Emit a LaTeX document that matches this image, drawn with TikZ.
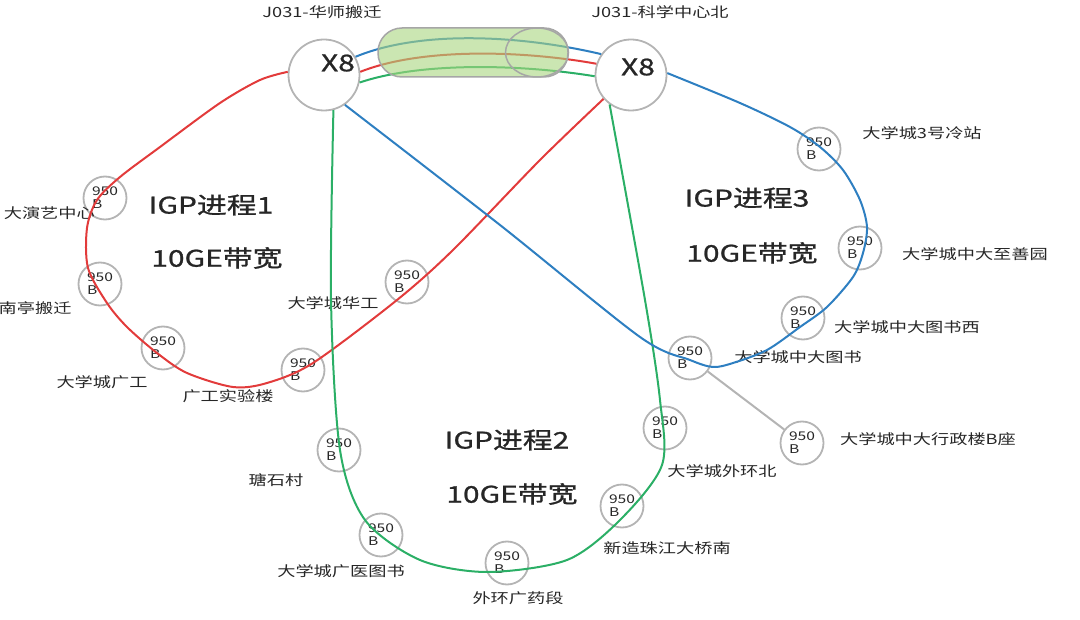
\documentclass[tikz,border=0pt]{standalone}
\usepackage{fontspec}
\setmainfont[FakeStretch=1.3]{Noto Sans CJK SC}
\definecolor{igpred}{HTML}{E23B3B}
\definecolor{igpblue}{HTML}{2E7FC1}
\definecolor{igpgreen}{HTML}{2BAF66}
\definecolor{ringgray}{HTML}{B4B4B4}
\definecolor{pillgreen}{HTML}{A8D67E}
\definecolor{txt}{HTML}{262626}
\begin{document}
\begin{tikzpicture}[x=1pt,y=-1pt,
    every node/.style={text=txt},
    site/.style={circle,draw=ringgray,line width=1.8pt,minimum size=43pt,
      inner sep=0pt,align=left,font=\fontsize{12}{13}\selectfont},
    core/.style={circle,draw=ringgray,line width=1.8pt,minimum size=71pt,inner sep=0pt},
    lbl/.style={font=\fontsize{14}{16}\selectfont},
    big/.style={font=\fontsize{23}{26}\selectfont\addfontfeatures{FakeBold=1}},
    ring/.style={line width=2pt,smooth,tension=0.5}] %
  \useasboundingbox (0,0) rectangle (1080,620);%

  % the two X8 core nodes
  \node[core] (xl) at (324,75) {};%
  \node[core] (xr) at (631,75) {};%
  \node[big] (xlt) at (338,63) {X8};%
  \node[big] (xrt) at (638,67) {X8};%
  \node[lbl] (xln) at (322,12) {J031-华师搬迁};%
  \node[lbl] (xrn) at (660,12) {J031-科学中心北};%

  % ring 1
  \node[site] (r1) at (105,198) {950\\B};%
  \node[site] (r2) at (100,284) {950\\B};%
  \node[site] (r3) at (163,348) {950\\B};%
  \node[site] (r4) at (303,370) {950\\B};%
  \node[site] (r5) at (407,282) {950\\B};%
  % ring 2
  \node[site] (g1) at (339,450) {950\\B};%
  \node[site] (g2) at (381,535) {950\\B};%
  \node[site] (g3) at (507,563) {950\\B};%
  \node[site] (g4) at (622,506) {950\\B};%
  \node[site] (g5) at (665,428) {950\\B};%
  % ring 3
  \node[site] (b1) at (819,149) {950\\B};%
  \node[site] (b2) at (860,248) {950\\B};%
  \node[site] (b3) at (803,318) {950\\B};%
  \node[site] (b4) at (690,358) {950\\B};%
  \node[site] (b5) at (802,443) {950\\B};%

  % station names
  \node[lbl,anchor=east,inner sep=0pt] (r1t) at (95,213) {大演艺中心};%
  \node[lbl,anchor=east] (r2t) at (75,308) {南亭搬迁};%
  \node[lbl] (r3t) at (102,382) {大学城广工};%
  \node[lbl] (r4t) at (228,396) {广工实验楼};%
  \node[lbl] (r5t) at (333,303) {大学城华工};%
  \node[lbl] (g1t) at (276,480) {瑭石村};%
  \node[lbl] (g2t) at (341,571) {大学城广医图书};%
  \node[lbl] (g3t) at (518,598) {外环广药段};%
  \node[lbl] (g4t) at (667,548) {新造珠江大桥南};%
  \node[lbl] (g5t) at (722,471) {大学城外环北};%
  \node[lbl] (b1t) at (922,133) {大学城3号冷站};%
  \node[lbl] (b2t) at (975,254) {大学城中大至善园};%
  \node[lbl] (b3t) at (907,327) {大学城中大图书西};%
  \node[lbl] (b4t) at (798,357) {大学城中大图书};%
  \node[lbl] (b5t) at (928,439) {大学城中大行政楼B座};%

  % ring titles
  \node[big] (t1) at (211,205) {IGP进程1};%
  \node[big] (w1) at (217,258) {10GE带宽};%
  \node[big] (t2) at (507,440) {IGP进程2};%
  \node[big] (w2) at (512,494) {10GE带宽};%
  \node[big] (t3) at (747,198) {IGP进程3};%
  \node[big] (w3) at (752,253) {10GE带宽};%

  % the rings
  \draw[ring,igpred] plot coordinates {(xl.175) (260,80) (220,103) (160,147)
    (120,177) (97,200) (87,228) (88,268) (107,303) (127,327) (157,353)
    (187,373) (233,387) (267,383) (313,363) (397,300) (453,250) (540,160)
    (xr.221)};%
  \draw[ring,igpgreen] plot coordinates {(xl.-75) (331,300) (340,450)
    (365,520) (420,560) (487,572) (567,560) (620,520) (662,465) (660,400)
    (645,300) (xr.234)};%
  \draw[ring,igpblue] plot coordinates {(xl.-55) (500,225) (640,337)
    (690,360) (713,367) (733,363) (767,350) (800,327) (827,307) (853,277)
    (863,253) (867,227) (860,200) (843,170) (820,147) (790,127) (740,103)
    (xr.3)};%
  \draw[ringgray,line width=2pt] (b4)--(b5);%

  % trunk between the cores
  \draw[igpblue,line width=2pt] (xl.30) .. controls (420,30) and (520,35) .. (xr.145);%
  \draw[igpred,line width=2pt] (xl.5) .. controls (420,48) and (520,50) .. (xr.162);%
  \draw[igpgreen,line width=2pt] (xl.-12) .. controls (420,62) and (520,64) .. (xr.182);%
  \draw[draw=gray!70,line width=1.5pt,fill=pillgreen,fill opacity=0.6,
    rounded corners=24pt] (378,28) rectangle (568,77);%
  \draw[draw=gray!70,line width=1.5pt] (537,52.5) ellipse (31.5 and 24.5);%
\end{tikzpicture}
\end{document}
